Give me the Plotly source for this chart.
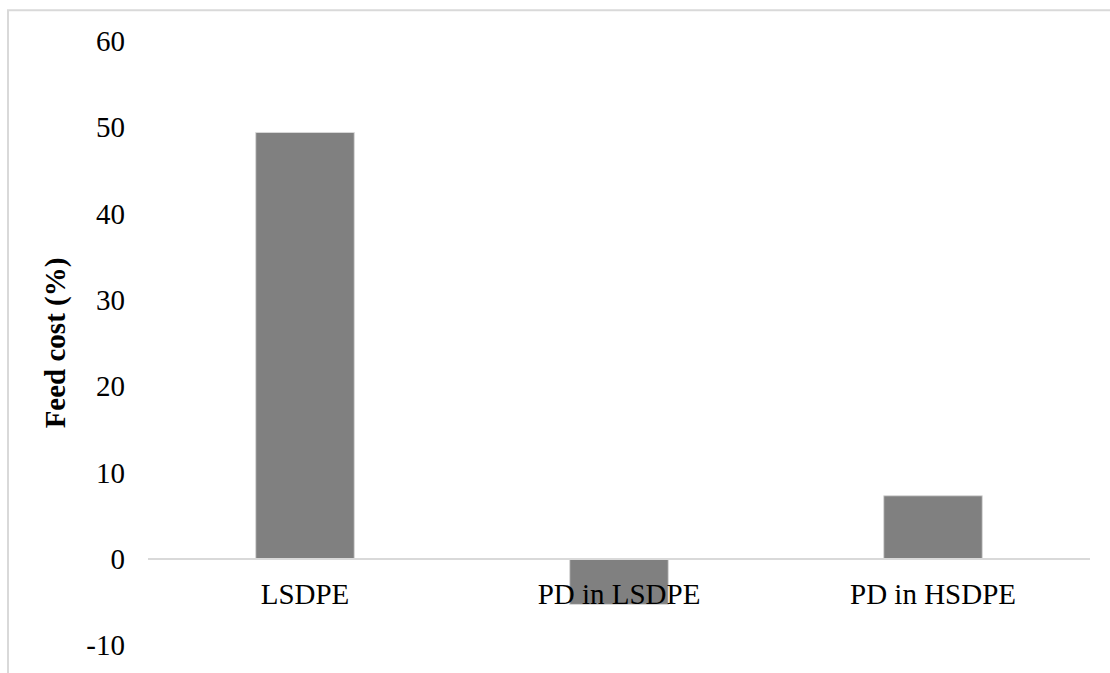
import plotly.graph_objects as go

categories = ["LSDPE", "PD in LSDPE", "PD in HSDPE"]
feed_cost = [49.4, -5.3, 7.3]
y_ticks = [-10, 0, 10, 20, 30, 40, 50, 60]
y_tick_labels = ["-10", "0", "10", "20", "30", "40", "50", "60"]

FONT = "Liberation Serif, Times New Roman, serif"
GRID = "#d9d9d9"

fig = go.Figure(
    go.Bar(
        x=categories,
        y=feed_cost,
        marker=dict(color="#808080", line=dict(color=GRID, width=1)),
    )
)

# plot area in pixels: x 148..1090, y 41..648
L, R, T, B = 148, 20, 41, 25
W, H = 1110 - L - R, 673 - T - B

fig.update_layout(
    width=1110,
    height=673,
    margin=dict(l=L, r=R, t=T, b=B),
    paper_bgcolor="white",
    plot_bgcolor="white",
    bargap=0.686,
    showlegend=False,
    font=dict(family=FONT, size=29, color="black"),
    xaxis=dict(
        type="category",
        anchor="free",
        position=10 / 70,
        showline=True,
        linecolor=GRID,
        linewidth=1.5,
        showgrid=False,
        ticks="",
        ticklabelstandoff=10,
        tickfont=dict(family=FONT, size=29, color="black"),
    ),
    yaxis=dict(
        range=[-10, 60],
        tickvals=y_ticks,
        ticktext=y_tick_labels,
        showgrid=False,
        zeroline=False,
        showline=False,
        ticks="",
        ticklabelstandoff=22,
        tickfont=dict(family=FONT, size=29, color="black"),
        title=dict(
            text="<b>Feed cost (%)</b>",
            font=dict(family=FONT, size=29, color="black"),
            standoff=12,
        ),
    ),
)

# outer chart frame
fig.add_shape(
    type="rect",
    xref="paper",
    yref="paper",
    x0=(8 - L) / W,
    x1=(1130 - L) / W,
    y0=(648 - 700) / H,
    y1=(648 - 10) / H,
    line=dict(color=GRID, width=2),
    fillcolor="rgba(0,0,0,0)",
    layer="below",
)

fig.write_html("out.html")
